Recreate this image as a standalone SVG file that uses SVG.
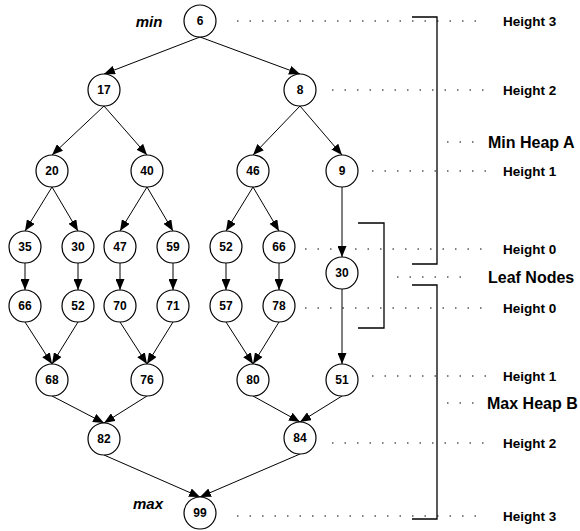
<svg xmlns="http://www.w3.org/2000/svg" width="580" height="531" viewBox="0 0 580 531">
<style>
.n circle{fill:#fff;stroke:#000;stroke-width:1.2}
.n text{font-family:"Liberation Sans",Arial,sans-serif;font-weight:bold;font-size:12px;text-anchor:middle}
.e line{stroke:#000;stroke-width:1;marker-end:url(#ah)}
.d line{stroke:#000;stroke-width:1.2;stroke-dasharray:1.5 11}
.b path{fill:none;stroke:#000;stroke-width:1.3}
.lab{font-family:"Liberation Sans",Arial,sans-serif;font-weight:bold;font-size:13.5px}
.big{font-family:"Liberation Sans",Arial,sans-serif;font-weight:bold;font-size:16px}
.mm{font-family:"Liberation Sans",Arial,sans-serif;font-weight:bold;font-style:italic;font-size:15px;text-anchor:middle}
</style>
<defs>
<marker id="ah" markerUnits="userSpaceOnUse" markerWidth="11" markerHeight="9" refX="11" refY="4.5" orient="auto">
<path d="M0,0 L11,4.5 L0,9 z" fill="#000"/>
</marker>
</defs>
<rect width="580" height="531" fill="#fff"/>
<g id="guides" class="d">
<line x1="237" y1="21" x2="486" y2="21"/>
<line x1="332" y1="90" x2="490" y2="90"/>
<line x1="447" y1="142" x2="478" y2="142"/>
<line x1="372" y1="171" x2="490" y2="171"/>
<line x1="305" y1="249" x2="482" y2="249"/>
<line x1="397" y1="277" x2="472" y2="277"/>
<line x1="305" y1="308" x2="482" y2="308"/>
<line x1="372" y1="376" x2="490" y2="376"/>
<line x1="447" y1="403" x2="478" y2="403"/>
<line x1="332" y1="443" x2="490" y2="443"/>
<line x1="237" y1="516" x2="486" y2="516"/>
</g>
<g id="brackets" class="b">
<path d="M412,17 H437 V264 H412"/>
<path d="M412,285 H437 V519 H412"/>
<path d="M358,223 H384 V328 H358"/>
</g>
<g id="labels">
<text class="lab" x="503" y="26">Height 3</text>
<text class="lab" x="503" y="95">Height 2</text>
<text class="big" x="488" y="148">Min Heap A</text>
<text class="lab" x="503" y="176">Height 1</text>
<text class="lab" x="503" y="254">Height 0</text>
<text class="big" x="488" y="283">Leaf Nodes</text>
<text class="lab" x="503" y="313">Height 0</text>
<text class="lab" x="503" y="381">Height 1</text>
<text class="big" x="487" y="409">Max Heap B</text>
<text class="lab" x="503" y="448">Height 2</text>
<text class="lab" x="503" y="521">Height 3</text>
<text class="mm" x="149" y="27">min</text>
<text class="mm" x="148" y="509">max</text>
</g>
<g id="connectors" class="e">
<line x1="200" y1="37" x2="104" y2="74"/>
<line x1="200" y1="37" x2="300" y2="74"/>
<line x1="104" y1="106" x2="52" y2="155"/>
<line x1="104" y1="106" x2="147" y2="155"/>
<line x1="300" y1="106" x2="253" y2="155"/>
<line x1="300" y1="106" x2="342" y2="155"/>
<line x1="52" y1="187" x2="25" y2="231"/>
<line x1="52" y1="187" x2="78" y2="231"/>
<line x1="147" y1="187" x2="120" y2="231"/>
<line x1="147" y1="187" x2="173" y2="231"/>
<line x1="253" y1="187" x2="226" y2="231"/>
<line x1="253" y1="187" x2="279" y2="231"/>
<line x1="342" y1="187" x2="342" y2="257"/>
<line x1="25" y1="263" x2="25" y2="290"/>
<line x1="78" y1="263" x2="78" y2="290"/>
<line x1="120" y1="263" x2="120" y2="290"/>
<line x1="173" y1="263" x2="173" y2="290"/>
<line x1="226" y1="263" x2="226" y2="290"/>
<line x1="279" y1="263" x2="279" y2="290"/>
<line x1="342" y1="289" x2="342" y2="364"/>
<line x1="25" y1="322" x2="52" y2="364"/>
<line x1="78" y1="322" x2="52" y2="364"/>
<line x1="120" y1="322" x2="147" y2="364"/>
<line x1="173" y1="322" x2="147" y2="364"/>
<line x1="226" y1="322" x2="253" y2="364"/>
<line x1="279" y1="322" x2="253" y2="364"/>
<line x1="52" y1="396" x2="104" y2="423"/>
<line x1="147" y1="396" x2="104" y2="423"/>
<line x1="253" y1="396" x2="300" y2="422"/>
<line x1="342" y1="396" x2="300" y2="422"/>
<line x1="104" y1="455" x2="200" y2="497"/>
<line x1="300" y1="454" x2="200" y2="497"/>
</g>
<g id="n6" class="n"><circle cx="200" cy="21" r="16"/><text x="200" y="25">6</text></g>
<g id="n17" class="n"><circle cx="104" cy="90" r="16"/><text x="104" y="94">17</text></g>
<g id="n8" class="n"><circle cx="300" cy="90" r="16"/><text x="300" y="94">8</text></g>
<g id="n20" class="n"><circle cx="52" cy="171" r="16"/><text x="52" y="175">20</text></g>
<g id="n40" class="n"><circle cx="147" cy="171" r="16"/><text x="147" y="175">40</text></g>
<g id="n46" class="n"><circle cx="253" cy="171" r="16"/><text x="253" y="175">46</text></g>
<g id="n9" class="n"><circle cx="342" cy="171" r="16"/><text x="342" y="175">9</text></g>
<g id="n35" class="n"><circle cx="25" cy="247" r="16"/><text x="25" y="251">35</text></g>
<g id="n30a" class="n"><circle cx="78" cy="247" r="16"/><text x="78" y="251">30</text></g>
<g id="n47" class="n"><circle cx="120" cy="247" r="16"/><text x="120" y="251">47</text></g>
<g id="n59" class="n"><circle cx="173" cy="247" r="16"/><text x="173" y="251">59</text></g>
<g id="n52a" class="n"><circle cx="226" cy="247" r="16"/><text x="226" y="251">52</text></g>
<g id="n66a" class="n"><circle cx="279" cy="247" r="16"/><text x="279" y="251">66</text></g>
<g id="n30b" class="n"><circle cx="342" cy="273" r="16"/><text x="342" y="277">30</text></g>
<g id="n66b" class="n"><circle cx="25" cy="306" r="16"/><text x="25" y="310">66</text></g>
<g id="n52b" class="n"><circle cx="78" cy="306" r="16"/><text x="78" y="310">52</text></g>
<g id="n70" class="n"><circle cx="120" cy="306" r="16"/><text x="120" y="310">70</text></g>
<g id="n71" class="n"><circle cx="173" cy="306" r="16"/><text x="173" y="310">71</text></g>
<g id="n57" class="n"><circle cx="226" cy="306" r="16"/><text x="226" y="310">57</text></g>
<g id="n78" class="n"><circle cx="279" cy="306" r="16"/><text x="279" y="310">78</text></g>
<g id="n68" class="n"><circle cx="52" cy="380" r="16"/><text x="52" y="384">68</text></g>
<g id="n76" class="n"><circle cx="147" cy="380" r="16"/><text x="147" y="384">76</text></g>
<g id="n80" class="n"><circle cx="253" cy="380" r="16"/><text x="253" y="384">80</text></g>
<g id="n51" class="n"><circle cx="342" cy="380" r="16"/><text x="342" y="384">51</text></g>
<g id="n82" class="n"><circle cx="104" cy="439" r="16"/><text x="104" y="443">82</text></g>
<g id="n84" class="n"><circle cx="300" cy="438" r="16"/><text x="300" y="442">84</text></g>
<g id="n99" class="n"><circle cx="200" cy="513" r="16"/><text x="200" y="517">99</text></g>
</svg>
